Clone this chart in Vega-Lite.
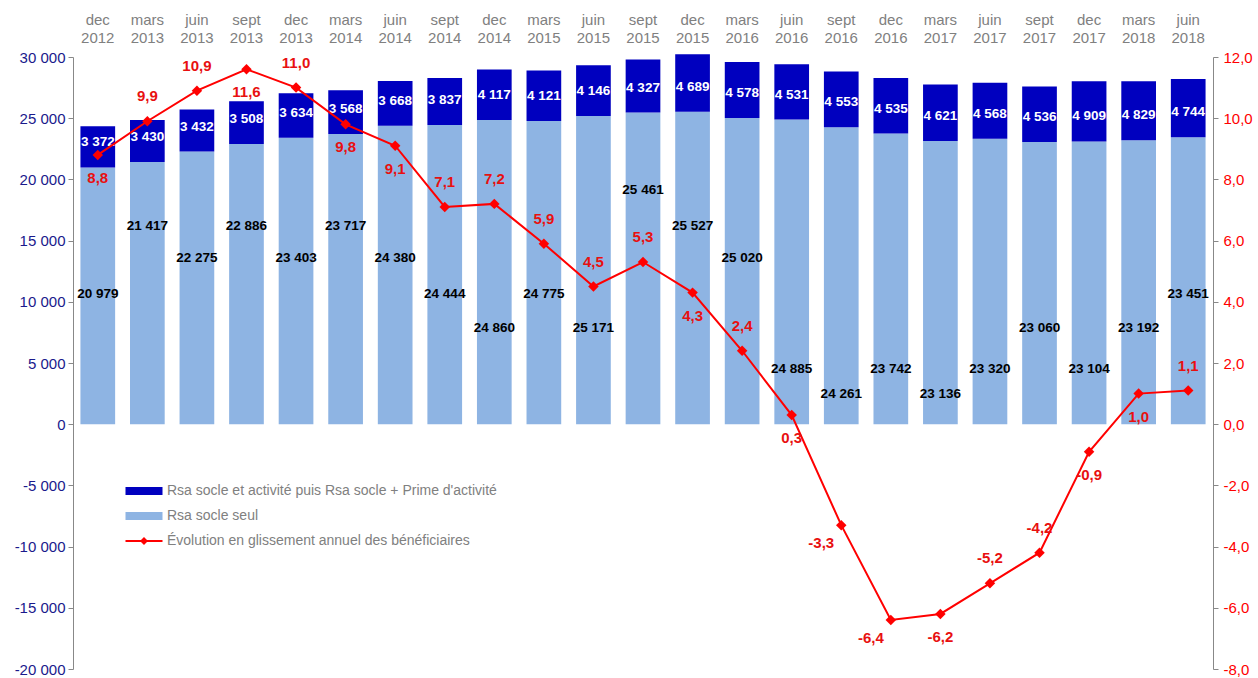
{
  "$schema": "https://vega.github.io/schema/vega-lite/v6.json",
  "width": 1140,
  "height": 612,
  "autosize": "none",
  "padding": {"left": 73, "top": 57, "right": 45, "bottom": 9},
  "config": {
    "font": "Liberation Sans",
    "view": {"stroke": null},
    "locale": {"number": {"decimal": ",", "thousands": " ", "grouping": [3], "currency": ["", " €"], "minus": "-"}},
    "text": {"fontWeight": "bold", "baseline": "middle"}
  },
  "data": {
    "values": [
      {"p": "dec 2012", "socle": 20979, "activite": 3372, "evol": 8.8},
      {"p": "mars 2013", "socle": 21417, "activite": 3430, "evol": 9.9},
      {"p": "juin 2013", "socle": 22275, "activite": 3432, "evol": 10.9},
      {"p": "sept 2013", "socle": 22886, "activite": 3508, "evol": 11.6},
      {"p": "dec 2013", "socle": 23403, "activite": 3634, "evol": 11.0},
      {"p": "mars 2014", "socle": 23717, "activite": 3568, "evol": 9.8},
      {"p": "juin 2014", "socle": 24380, "activite": 3668, "evol": 9.1},
      {"p": "sept 2014", "socle": 24444, "activite": 3837, "evol": 7.1},
      {"p": "dec 2014", "socle": 24860, "activite": 4117, "evol": 7.2},
      {"p": "mars 2015", "socle": 24775, "activite": 4121, "evol": 5.9},
      {"p": "juin 2015", "socle": 25171, "activite": 4146, "evol": 4.5},
      {"p": "sept 2015", "socle": 25461, "activite": 4327, "evol": 5.3},
      {"p": "dec 2015", "socle": 25527, "activite": 4689, "evol": 4.3},
      {"p": "mars 2016", "socle": 25020, "activite": 4578, "evol": 2.4},
      {"p": "juin 2016", "socle": 24885, "activite": 4531, "evol": 0.3},
      {"p": "sept 2016", "socle": 24261, "activite": 4553, "evol": -3.3},
      {"p": "dec 2016", "socle": 23742, "activite": 4535, "evol": -6.4},
      {"p": "mars 2017", "socle": 23136, "activite": 4621, "evol": -6.2},
      {"p": "juin 2017", "socle": 23320, "activite": 4568, "evol": -5.2},
      {"p": "sept 2017", "socle": 23060, "activite": 4536, "evol": -4.2},
      {"p": "dec 2017", "socle": 23104, "activite": 4909, "evol": -0.9},
      {"p": "mars 2018", "socle": 23192, "activite": 4829, "evol": 1.0},
      {"p": "juin 2018", "socle": 23451, "activite": 4744, "evol": 1.1}
    ]
  },
  "encoding": {
    "x": {
      "field": "p", "type": "nominal", "sort": null,
      "scale": {"paddingInner": 0.3, "paddingOuter": 0.15},
      "axis": {"orient": "top", "title": null, "domain": false, "ticks": false, "labelAngle": 0,
               "labelColor": "#808080", "labelFontSize": 15, "labelExpr": "split(datum.label, ' ')",
               "labelLineHeight": 18, "labelPadding": 30}
    }
  },
  "layer": [
    {
      "layer": [
        {
          "transform": [{"fold": ["socle", "activite"], "as": ["serie", "value"]}],
          "mark": {"type": "bar"},
          "encoding": {
            "y": {"field": "value", "type": "quantitative", "stack": "zero",
                  "scale": {"domain": [-20000, 30000], "nice": false},
                  "axis": {"orient": "left", "title": null, "values": [-20000, -15000, -10000, -5000, 0, 5000, 10000, 15000, 20000, 25000, 30000],
                           "format": ",.0f", "labelColor": "#1A1A8C", "labelFontSize": 15, "domainColor": "#888888",
                           "tickColor": "#888888", "tickSize": 5, "grid": false, "labelPadding": 3}},
            "color": {
              "field": "serie", "type": "nominal",
              "scale": {"domain": ["activite", "socle", "evol"], "range": ["#0000BF", "#8EB4E3", "#FF0000"]},
              "legend": {
                "title": null, "orient": "none", "legendX": 64, "legendY": 427, "padding": 0,
                "labelFontSize": 14, "labelColor": "#808080", "labelFont": "Liberation Sans", "labelLimit": 0,
                "symbolSize": 196, "labelOffset": 16, "rowPadding": 11, "symbolStrokeWidth": 0,
                "labelExpr": "datum.value == 'activite' ? \"Rsa socle et activité puis Rsa socle + Prime d'activité\" : datum.value == 'socle' ? 'Rsa socle seul' : 'Évolution en glissement annuel des bénéficiaires'",
                "encode": {
                  "symbols": {
                    "update": {
                      "shape": {"signal": "datum.value == 'evol' ? 'M-2.643,-0.143H2.643V0.143H-2.643Z M-0.571,0L0,-0.571L0.571,0L0,0.571Z' : 'M-2.643,-0.571H2.643V0.571H-2.643Z'"},
                      "opacity": {"value": 1}
                    }
                  }
                }
              }
            },
            "order": {"field": "serie", "sort": "descending"}
          }
        },
        {
          "transform": [{"filter": {"field": "p", "oneOf": ["sept 2015"]}}],
          "mark": {"type": "text", "fontSize": 13.5, "color": "#000000"},
          "encoding": {
            "y": {"datum": 19150, "type": "quantitative", "scale": {"domain": [-20000, 30000], "nice": false},
                  "axis": {"orient": "left", "title": null, "values": [-20000, -15000, -10000, -5000, 0, 5000, 10000, 15000, 20000, 25000, 30000],
                           "format": ",.0f", "labelColor": "#1A1A8C", "labelFontSize": 15, "domainColor": "#888888",
                           "tickColor": "#888888", "tickSize": 5, "grid": false, "labelPadding": 3}},
            "text": {"field": "socle", "type": "quantitative", "format": ","}
          }
        },
        {
          "transform": [{"filter": {"field": "p", "oneOf": ["mars 2013", "sept 2013", "mars 2014", "dec 2015"]}}],
          "mark": {"type": "text", "fontSize": 13.5, "color": "#000000"},
          "encoding": {
            "y": {"datum": 16200, "type": "quantitative", "scale": {"domain": [-20000, 30000], "nice": false},
                  "axis": {"orient": "left", "title": null, "values": [-20000, -15000, -10000, -5000, 0, 5000, 10000, 15000, 20000, 25000, 30000],
                           "format": ",.0f", "labelColor": "#1A1A8C", "labelFontSize": 15, "domainColor": "#888888",
                           "tickColor": "#888888", "tickSize": 5, "grid": false, "labelPadding": 3}},
            "text": {"field": "socle", "type": "quantitative", "format": ","}
          }
        },
        {
          "transform": [{"filter": {"field": "p", "oneOf": ["juin 2013", "dec 2013", "juin 2014", "mars 2016"]}}],
          "mark": {"type": "text", "fontSize": 13.5, "color": "#000000"},
          "encoding": {
            "y": {"datum": 13600, "type": "quantitative", "scale": {"domain": [-20000, 30000], "nice": false},
                  "axis": {"orient": "left", "title": null, "values": [-20000, -15000, -10000, -5000, 0, 5000, 10000, 15000, 20000, 25000, 30000],
                           "format": ",.0f", "labelColor": "#1A1A8C", "labelFontSize": 15, "domainColor": "#888888",
                           "tickColor": "#888888", "tickSize": 5, "grid": false, "labelPadding": 3}},
            "text": {"field": "socle", "type": "quantitative", "format": ","}
          }
        },
        {
          "transform": [{"filter": {"field": "p", "oneOf": ["dec 2012", "sept 2014", "mars 2015", "juin 2018"]}}],
          "mark": {"type": "text", "fontSize": 13.5, "color": "#000000"},
          "encoding": {
            "y": {"datum": 10600, "type": "quantitative", "scale": {"domain": [-20000, 30000], "nice": false},
                  "axis": {"orient": "left", "title": null, "values": [-20000, -15000, -10000, -5000, 0, 5000, 10000, 15000, 20000, 25000, 30000],
                           "format": ",.0f", "labelColor": "#1A1A8C", "labelFontSize": 15, "domainColor": "#888888",
                           "tickColor": "#888888", "tickSize": 5, "grid": false, "labelPadding": 3}},
            "text": {"field": "socle", "type": "quantitative", "format": ","}
          }
        },
        {
          "transform": [{"filter": {"field": "p", "oneOf": ["dec 2014", "juin 2015", "sept 2017", "mars 2018"]}}],
          "mark": {"type": "text", "fontSize": 13.5, "color": "#000000"},
          "encoding": {
            "y": {"datum": 7900, "type": "quantitative", "scale": {"domain": [-20000, 30000], "nice": false},
                  "axis": {"orient": "left", "title": null, "values": [-20000, -15000, -10000, -5000, 0, 5000, 10000, 15000, 20000, 25000, 30000],
                           "format": ",.0f", "labelColor": "#1A1A8C", "labelFontSize": 15, "domainColor": "#888888",
                           "tickColor": "#888888", "tickSize": 5, "grid": false, "labelPadding": 3}},
            "text": {"field": "socle", "type": "quantitative", "format": ","}
          }
        },
        {
          "transform": [{"filter": {"field": "p", "oneOf": ["juin 2016", "dec 2016", "juin 2017", "dec 2017"]}}],
          "mark": {"type": "text", "fontSize": 13.5, "color": "#000000"},
          "encoding": {
            "y": {"datum": 4500, "type": "quantitative", "scale": {"domain": [-20000, 30000], "nice": false},
                  "axis": {"orient": "left", "title": null, "values": [-20000, -15000, -10000, -5000, 0, 5000, 10000, 15000, 20000, 25000, 30000],
                           "format": ",.0f", "labelColor": "#1A1A8C", "labelFontSize": 15, "domainColor": "#888888",
                           "tickColor": "#888888", "tickSize": 5, "grid": false, "labelPadding": 3}},
            "text": {"field": "socle", "type": "quantitative", "format": ","}
          }
        },
        {
          "transform": [{"filter": {"field": "p", "oneOf": ["sept 2016", "mars 2017"]}}],
          "mark": {"type": "text", "fontSize": 13.5, "color": "#000000"},
          "encoding": {
            "y": {"datum": 2500, "type": "quantitative", "scale": {"domain": [-20000, 30000], "nice": false},
                  "axis": {"orient": "left", "title": null, "values": [-20000, -15000, -10000, -5000, 0, 5000, 10000, 15000, 20000, 25000, 30000],
                           "format": ",.0f", "labelColor": "#1A1A8C", "labelFontSize": 15, "domainColor": "#888888",
                           "tickColor": "#888888", "tickSize": 5, "grid": false, "labelPadding": 3}},
            "text": {"field": "socle", "type": "quantitative", "format": ","}
          }
        },
        {
          "mark": {"type": "text", "fontSize": 13.5, "color": "#FFFFFF", "dy": -25},
          "encoding": {
            "y": {"field": "socle", "type": "quantitative", "scale": {"domain": [-20000, 30000], "nice": false},
                  "axis": {"orient": "left", "title": null, "values": [-20000, -15000, -10000, -5000, 0, 5000, 10000, 15000, 20000, 25000, 30000],
                           "format": ",.0f", "labelColor": "#1A1A8C", "labelFontSize": 15, "domainColor": "#888888",
                           "tickColor": "#888888", "tickSize": 5, "grid": false, "labelPadding": 3}},
            "text": {"field": "activite", "type": "quantitative", "format": ","}
          }
        }
      ]
    },
    {
      "encoding": {
        "y": {"field": "evol", "type": "quantitative", "scale": {"domain": [-8, 12], "nice": false},
              "axis": {"orient": "right", "title": null, "values": [-8, -6, -4, -2, 0, 2, 4, 6, 8, 10, 12],
                       "format": ".1f", "labelColor": "#FF0000", "labelFontSize": 15, "domainColor": "#888888",
                       "tickColor": "#888888", "tickSize": 5, "grid": false, "labelPadding": 5}}
      },
      "layer": [
        {
          "mark": {"type": "line", "color": "#FF0000", "strokeWidth": 2,
                   "point": {"shape": "diamond", "size": 110, "filled": true, "color": "#FF0000", "opacity": 1}}
        },
        {
          "transform": [{"filter": {"field": "p", "oneOf": ["mars 2013", "juin 2013", "dec 2013", "sept 2014", "dec 2014", "mars 2015", "juin 2015", "sept 2015", "mars 2016", "juin 2017", "sept 2017", "juin 2018"]}}],
          "mark": {"type": "text", "fontSize": 15, "color": "#E81010", "dy": -25},
          "encoding": {"text": {"field": "evol", "type": "quantitative", "format": ".1f"}}
        },
        {
          "transform": [{"filter": {"field": "p", "oneOf": ["dec 2012", "sept 2013", "mars 2014", "juin 2014", "dec 2015", "juin 2016", "mars 2017", "dec 2017", "mars 2018"]}}],
          "mark": {"type": "text", "fontSize": 15, "color": "#E81010", "dy": 23},
          "encoding": {"text": {"field": "evol", "type": "quantitative", "format": ".1f"}}
        },
        {
          "transform": [{"filter": {"field": "p", "oneOf": ["sept 2016", "dec 2016"]}}],
          "mark": {"type": "text", "fontSize": 15, "color": "#E81010", "dy": 18, "dx": -20},
          "encoding": {"text": {"field": "evol", "type": "quantitative", "format": ".1f"}}
        }
      ]
    }
  ],
  "resolve": {"scale": {"y": "independent"}}
}
